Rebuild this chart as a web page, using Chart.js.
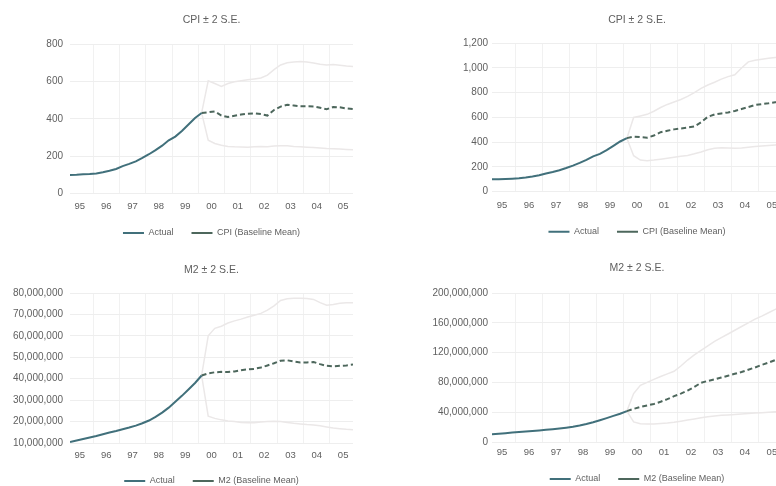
<!DOCTYPE html>
<html>
<head>
<meta charset="utf-8">
<script src="https://cdn.jsdelivr.net/npm/chart.js@4.4.1/dist/chart.umd.min.js"></script>
<style>
html, body { margin: 0; padding: 0; background: #fff; }
#wrap { position: relative; width: 776px; height: 486px; overflow: hidden; background: #fff; }
canvas { position: absolute; }
</style>
</head>
<body>
<div id="wrap">
  <canvas id="cpiA" width="390" height="260" style="left:0;top:0"></canvas>
  <canvas id="cpiB" width="420" height="260" style="left:390px;top:0"></canvas>
  <canvas id="m2A" width="390" height="270" style="left:0;top:240px"></canvas>
  <canvas id="m2B" width="420" height="270" style="left:390px;top:240px"></canvas>
</div>
<script>
// quarterly data, 95Q1 .. 05Q4; forecasts start at 00Q1
var years = ['95', '96', '97', '98', '99', '00', '01', '02', '03', '04', '05'];
var quarters = years.flatMap(function (y) { return ['Q1', 'Q2', 'Q3', 'Q4'].map(function (q) { return y + q; }); });
var forecastStart = quarters.indexOf('00Q1');

var cpiActual = [99, 100, 102, 104, 107, 113, 121, 131, 146, 158, 172, 190, 210, 232, 256, 285, 305, 335, 370, 405, 432];

var cpiMeanA  = [432, 436, 440, 418, 410, 417, 424, 428, 430, 426, 418, 448, 466, 476, 472, 468, 468, 467, 460, 452, 464, 462, 456, 453];
var cpiUpperA = [432, 605, 590, 575, 590, 600, 605, 610, 615, 620, 635, 665, 690, 702, 706, 708, 706, 700, 694, 690, 692, 688, 684, 682];
var cpiLowerA = [432, 285, 268, 258, 252, 250, 249, 248, 250, 252, 250, 254, 256, 255, 252, 250, 248, 246, 244, 241, 240, 238, 236, 234];

var cpiMeanB  = [432, 445, 440, 436, 453, 480, 492, 503, 510, 518, 526, 560, 605, 624, 632, 640, 652, 668, 684, 700, 708, 714, 722, 728];
var cpiUpperB = [432, 600, 612, 625, 650, 680, 705, 725, 745, 770, 800, 835, 862, 885, 910, 930, 945, 1000, 1050, 1062, 1070, 1078, 1085, 1090];
var cpiLowerB = [432, 290, 255, 250, 255, 262, 270, 278, 285, 292, 305, 320, 338, 350, 355, 352, 350, 352, 358, 364, 368, 372, 376, 380];

var m2Actual = [10.5e6, 11.2e6, 11.9e6, 12.6e6, 13.3e6, 14.1e6, 14.9e6, 15.6e6, 16.4e6, 17.2e6, 18.1e6, 19.2e6,
  20.5e6, 22.2e6, 24.2e6, 26.5e6, 29.2e6, 32.0e6, 35.0e6, 38.0e6, 41.5e6];

var m2MeanA  = [41.5e6, 42.5e6, 43.0e6, 43.2e6, 43.1e6, 43.4e6, 44.0e6, 44.4e6, 44.6e6, 45.2e6, 46.2e6, 47.2e6,
  48.4e6, 48.6e6, 48.0e6, 47.6e6, 47.6e6, 47.8e6, 46.8e6, 46.0e6, 45.8e6, 46.0e6, 46.2e6, 46.6e6];
var m2UpperA = [41.5e6, 60.0e6, 63.5e6, 64.5e6, 66.0e6, 67.0e6, 67.8e6, 68.8e6, 69.6e6, 70.5e6, 72.0e6, 74.0e6,
  76.5e6, 77.3e6, 77.5e6, 77.6e6, 77.4e6, 77.0e6, 75.5e6, 74.3e6, 74.6e6, 75.2e6, 75.4e6, 75.5e6];
var m2LowerA = [41.5e6, 22.5e6, 21.5e6, 20.8e6, 20.3e6, 20.0e6, 19.6e6, 19.4e6, 19.5e6, 19.8e6, 20.0e6, 20.2e6,
  20.0e6, 19.6e6, 19.2e6, 18.9e6, 18.6e6, 18.4e6, 18.0e6, 17.5e6, 17.0e6, 16.7e6, 16.4e6, 16.2e6];

var m2MeanB  = [41.5e6, 44.5e6, 47.0e6, 49.0e6, 51.0e6, 54.0e6, 57.5e6, 61.5e6, 65.0e6, 69.0e6, 74.0e6, 79.5e6,
  82.0e6, 84.0e6, 86.5e6, 89.0e6, 91.5e6, 94.0e6, 97.0e6, 100.0e6, 103.5e6, 106.5e6, 110.0e6, 113.0e6];
var m2UpperB = [41.5e6, 65.0e6, 76.0e6, 80.0e6, 84.0e6, 88.0e6, 91.5e6, 95.0e6, 102.0e6, 110.0e6, 117.0e6, 123.0e6,
  129.0e6, 135.0e6, 140.0e6, 145.0e6, 150.0e6, 155.0e6, 160.0e6, 165.0e6, 169.0e6, 173.5e6, 178.0e6, 182.0e6];
var m2LowerB = [41.5e6, 27.0e6, 24.5e6, 24.0e6, 24.2e6, 24.8e6, 25.5e6, 26.5e6, 28.0e6, 29.5e6, 31.0e6, 32.5e6,
  34.0e6, 35.0e6, 35.8e6, 36.4e6, 37.0e6, 37.5e6, 38.2e6, 38.8e6, 39.4e6, 40.0e6, 40.6e6, 41.2e6];

var cpiTicksA = [0, 200, 400, 600, 800];
var cpiTicksB = [0, 200, 400, 600, 800, 1000, 1200];
var m2TicksA = [10e6, 20e6, 30e6, 40e6, 50e6, 60e6, 70e6, 80e6];
var m2TicksB = [0, 40e6, 80e6, 120e6, 160e6, 200e6];

var FONT = "'Liberation Sans', Arial, sans-serif";
var TEXT = '#5f5f5f';
var ACTUAL_COLOR = '#41707b';
var MEAN_COLOR = '#4d675c';
var BAND_COLOR = '#ebe8e8';

function pts(values, start) {
  return values.map(function (v, i) { return { x: start + i, y: v }; });
}

function panel(id, p) {
  var titleLH = 10.5 * 1.2;
  var legendH = 9 + 18 + 10;
  var xH = p.legendY - 22.5 - p.plotBottom;
  var line = function (label, data, color, width, dash, order) {
    return {
      label: label, data: data, borderColor: color, backgroundColor: color,
      borderWidth: width, borderDash: dash, pointRadius: 0, pointStyle: 'line',
      tension: 0, fill: false, order: order
    };
  };
  return new Chart(document.getElementById(id), {
    type: 'line',
    data: {
      datasets: [
        line('Actual', pts(p.actual, 0), ACTUAL_COLOR, 2, [], 1),
        line(p.meanLabel, pts(p.mean, forecastStart), MEAN_COLOR, 2, [5, 3], 2),
        line('Upper', pts(p.upper, forecastStart), BAND_COLOR, 1.5, [], 3),
        line('Lower', pts(p.lower, forecastStart), BAND_COLOR, 1.5, [], 3)
      ]
    },
    options: {
      responsive: false,
      animation: false,
      events: [],
      layout: { padding: { left: 0, top: 0, right: p.right, bottom: p.height - legendH - xH - p.plotBottom } },
      plugins: {
        title: {
          display: true, text: p.title, fullSize: false, color: TEXT,
          font: { family: FONT, size: 10.5, weight: 'normal' },
          padding: { top: p.titleY - titleLH / 2, bottom: p.plotTop - p.titleY - titleLH / 2 }
        },
        legend: {
          position: 'bottom', fullSize: false,
          labels: {
            usePointStyle: true, pointStyleWidth: 21, padding: 18, color: TEXT,
            font: { family: FONT, size: 9 },
            filter: function (item) { return item.text !== 'Upper' && item.text !== 'Lower'; }
          }
        },
        tooltip: { enabled: false }
      },
      scales: {
        x: {
          type: 'linear', min: 0, max: quarters.length - 1,
          afterBuildTicks: function (ax) { ax.ticks = years.map(function (y) { return { value: quarters.indexOf(y + 'Q1') + 1.5 }; }); },
          afterFit: function (ax) { ax.height = xH; },
          ticks: {
            callback: function (v, i) { return years[i]; },
            padding: p.tickPad, color: TEXT, font: { family: FONT, size: 9.5 },
            maxRotation: 0, autoSkip: false
          },
          grid: { offset: true, color: '#f1f1f1', drawTicks: false },
          border: { display: false }
        },
        y: {
          min: p.yTicks[0], max: p.yTicks[p.yTicks.length - 1],
          afterBuildTicks: function (ax) { ax.ticks = p.yTicks.map(function (v) { return { value: v }; }); },
          afterFit: function (ax) { ax.width = p.yWidth; },
          ticks: {
            callback: function (v) { return v.toLocaleString('en-US'); },
            padding: p.yPad, color: TEXT, font: { family: FONT, size: 10 }
          },
          grid: { color: '#eeeeee', drawTicks: false },
          border: { display: false }
        }
      }
    }
  });
}

panel('cpiA', {
  title: 'CPI \u00b1 2 S.E.', meanLabel: 'CPI (Baseline Mean)',
  actual: cpiActual, mean: cpiMeanA, upper: cpiUpperA, lower: cpiLowerA, yTicks: cpiTicksA,
  height: 260, titleY: 20, plotTop: 44.5, plotBottom: 193.3, legendY: 233, tickPad: 7,
  yWidth: 70, yPad: 7, right: 37
});
panel('cpiB', {
  title: 'CPI \u00b1 2 S.E.', meanLabel: 'CPI (Baseline Mean)',
  actual: cpiActual, mean: cpiMeanB, upper: cpiUpperB, lower: cpiLowerB, yTicks: cpiTicksB,
  height: 260, titleY: 20, plotTop: 43.3, plotBottom: 191.5, legendY: 231.7, tickPad: 8.5,
  yWidth: 102, yPad: 4, right: 28
});
panel('m2A', {
  title: 'M2 \u00b1 2 S.E.', meanLabel: 'M2 (Baseline Mean)',
  actual: m2Actual, mean: m2MeanA, upper: m2UpperA, lower: m2LowerA, yTicks: m2TicksA,
  height: 270, titleY: 30, plotTop: 53, plotBottom: 203, legendY: 241, tickPad: 6.3,
  yWidth: 70, yPad: 7, right: 37
});
panel('m2B', {
  title: 'M2 \u00b1 2 S.E.', meanLabel: 'M2 (Baseline Mean)',
  actual: m2Actual, mean: m2MeanB, upper: m2UpperB, lower: m2LowerB, yTicks: m2TicksB,
  height: 270, titleY: 28, plotTop: 53, plotBottom: 202, legendY: 239, tickPad: 4.3,
  yWidth: 102, yPad: 4, right: 28
});
</script>
</body>
</html>
